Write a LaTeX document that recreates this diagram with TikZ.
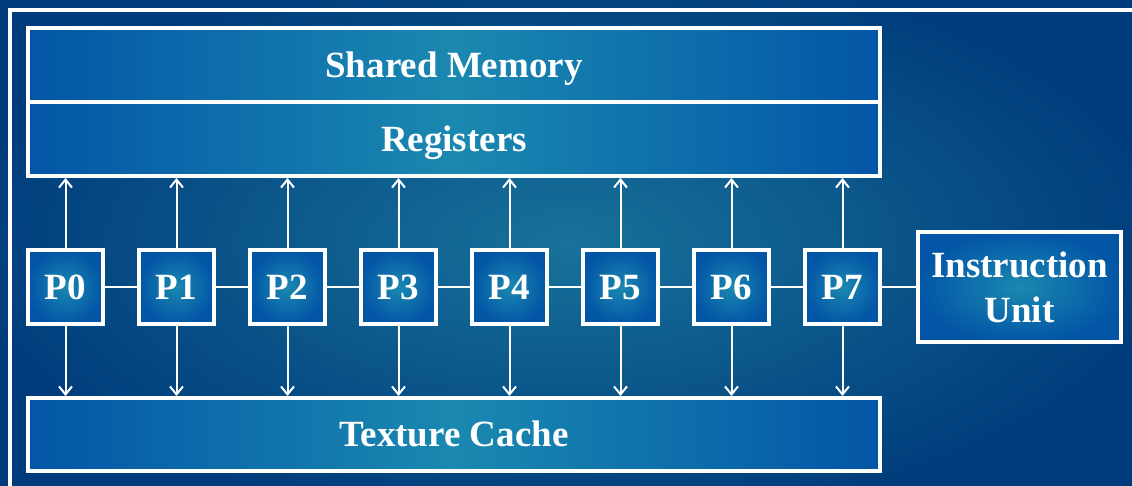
\documentclass[tikz,border=0pt]{standalone}
\usepackage{fontspec}
\setmainfont{Liberation Serif}
\usetikzlibrary{arrows.meta}
\definecolor{bgin}{HTML}{17729A}
\definecolor{bgout}{HTML}{003C7C}
\definecolor{boxin}{HTML}{1A88B0}
\definecolor{boxout}{HTML}{0356A6}

\begin{document}
\begin{tikzpicture}[x=1pt, y=-1pt,
  box/.style={draw=white, line width=4pt, inner sep=0pt, text=white,
    font=\bfseries\fontsize{37}{45}\selectfont},
  glow/.style={box, inner color=boxin, outer color=boxout},
  band/.style={box, left color=boxout, right color=boxout, middle color=boxin,
    text height=24.5pt, text depth=0pt, minimum width=852pt},
  unit/.style={glow, text height=24.5pt, text depth=0pt,
    minimum width=75pt, minimum height=74pt},
  link/.style={draw=white, line width=2pt},
  access/.style={link, -{Straight Barb[length=8pt,width=13pt]}}]

  % canvas and background
  \useasboundingbox (0,0) rectangle (1132,486);
  \clip (0,0) rectangle (1132,486);
  \shade[inner color=bgin, outer color=bgout] (-40,-40) rectangle (1172,526);

  % outer frame
  \draw[white, line width=4pt] (10,520) -- (10,10) -- (1160,10);

  % memories
  \node[band, minimum height=74pt] (smem) at (454,65) {Shared Memory};
  \node[band, minimum height=74pt] (regs) at (454,139) {Registers};
  \node[band, minimum height=73pt] (tex) at (454,434.5) {Texture Cache};

  % processors
  \foreach \i in {0,...,7}
    \node[unit] (p\i) at ({65.5+111*\i},287) {P\i};

  % instruction unit
  \node[glow, minimum width=203pt, minimum height=110pt, align=center] (iu) at (1019.5,287) {Instruction\\Unit};

  % processor chain
  \foreach \i in {0,...,6} {
    \pgfmathtruncatemacro{\j}{\i+1}
    \draw[link] (p\i.east) -- (p\j.west);
  }
  \draw[link] (p7.east) -- (iu.west);

  % memory access arrows
  \foreach \i in {0,...,7} {
    \draw[access] (p\i.north) -- (p\i.north |- regs.south);
    \draw[access] (p\i.south) -- (p\i.south |- tex.north);
  }
\end{tikzpicture}
\end{document}
